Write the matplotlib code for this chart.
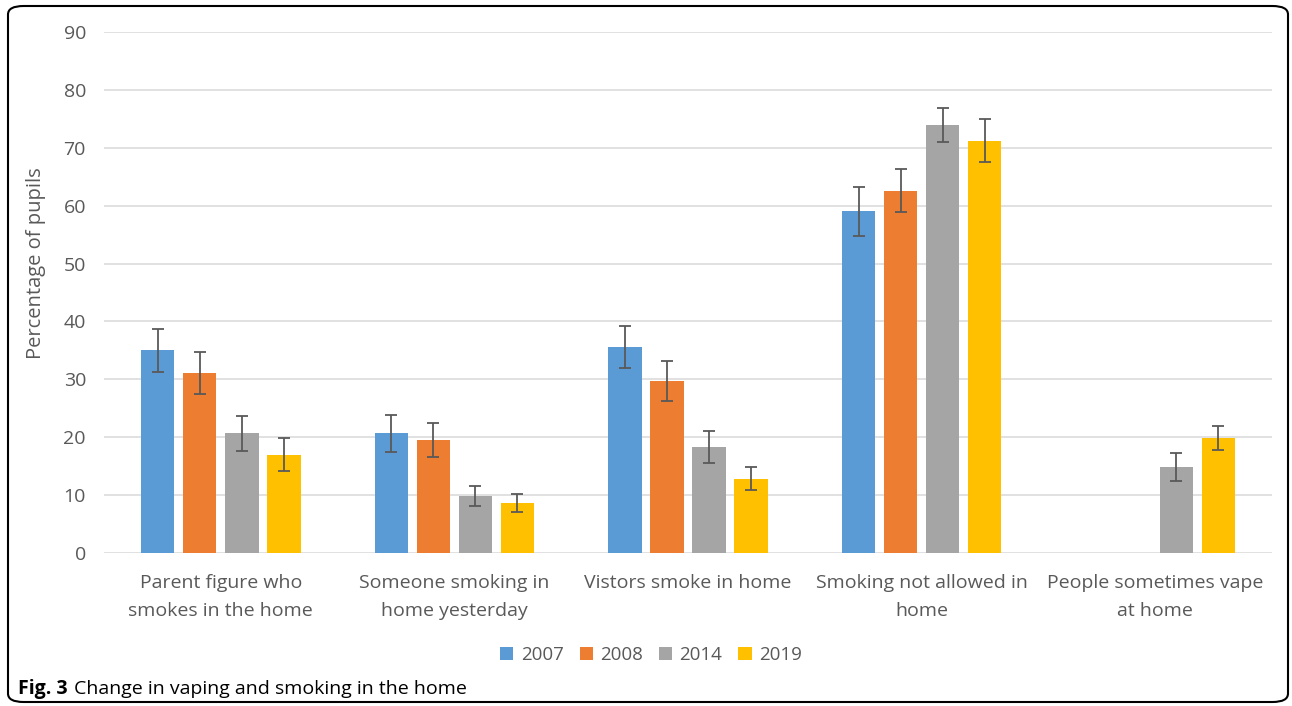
import numpy as np
import matplotlib
matplotlib.use("Agg")
import matplotlib.pyplot as plt
from matplotlib.patches import FancyBboxPatch

plt.rcParams['font.family'] = ['Open Sans', 'DejaVu Sans']

# Survey data: percentage of pupils, with error margins
categories = ["Parent figure who\nsmokes in the home",
              "Someone smoking in\nhome yesterday",
              "Vistors smoke in home",
              "Smoking not allowed in\nhome",
              "People sometimes vape\nat home"]
years = ["2007", "2008", "2014", "2019"]
colors = ["#5b9bd5", "#ed7d31", "#a5a5a5", "#ffc000"]

vals_2007 = [35.0, 20.7, 35.6, 59.0, np.nan]
vals_2008 = [31.1, 19.5, 29.7, 62.6, np.nan]
vals_2014 = [20.7, 9.8, 18.3, 73.9, 14.8]
vals_2019 = [17.0, 8.6, 12.8, 71.2, 19.9]

err_2007 = [3.7, 3.2, 3.6, 4.3, np.nan]
err_2008 = [3.6, 3.0, 3.5, 3.7, np.nan]
err_2014 = [3.0, 1.7, 2.8, 2.9, 2.4]
err_2019 = [2.8, 1.6, 2.0, 3.7, 2.1]

series = [vals_2007, vals_2008, vals_2014, vals_2019]
errors = [err_2007, err_2008, err_2014, err_2019]

W, H = 1292, 706
fig = plt.figure(figsize=(W / 100, H / 100), dpi=100)
ax = fig.add_axes([104 / W, 1 - 553 / H, 1168 / W, 521 / H])

x = np.arange(len(categories))
width = 0.143
step = 0.18
for i, (vals, errs) in enumerate(zip(series, errors)):
    pos = x + (i - 1.5) * step
    ax.bar(pos, vals, width, color=colors[i], label=years[i], zorder=3)
    ax.errorbar(pos, vals, yerr=errs, fmt="none", ecolor="#595959",
                elinewidth=1.3, capsize=4, capthick=1.3, zorder=4)

ax.set_xlim(-0.5, len(categories) - 0.5)
ax.set_ylim(0, 90)
ax.set_yticks(range(0, 91, 10))
ax.grid(axis="y", color="#d9d9d9", linewidth=1.1, zorder=0)
for s in ax.spines.values():
    s.set_visible(False)
ax.tick_params(axis="both", length=0, labelsize=14, labelcolor="#595959")
ax.tick_params(axis="y", pad=13)
ax.tick_params(axis="x", pad=15)
ax.set_xticks(x)
ax.set_xticklabels(categories, linespacing=1.7)
ax.set_ylabel("Percentage of pupils", fontsize=14.5, color="#595959")
ax.yaxis.set_label_coords((46 - 104) / 1168, (553 - 263) / 521)

ax.legend(loc="center", bbox_to_anchor=(651 / W, 1 - 655 / H),
          bbox_transform=fig.transFigure, ncol=4, frameon=False,
          fontsize=13.5, labelcolor="#595959", handlelength=0.7,
          handleheight=0.7, handletextpad=0.4, columnspacing=0.85)

# caption: bold figure number followed by plain text
fig_num = fig.text(18 / W, 1 - 689 / H, "Fig. 3", fontsize=14,
                   fontweight="bold", va="center", ha="left")
fig.canvas.draw()
bb = fig_num.get_window_extent()
fig.text((bb.x1 + 6) / W, 1 - 689 / H, "Change in vaping and smoking in the home",
         fontsize=14, va="center", ha="left")

# rounded frame around the figure
frame = FancyBboxPatch((8 / W, 4 / H), 1280 / W, 696 / H,
                       boxstyle="round,pad=0,rounding_size=0.012",
                       transform=fig.transFigure, fill=False,
                       edgecolor="black", linewidth=1.5)
fig.patches.append(frame)

fig.savefig("out.png", dpi=100)
